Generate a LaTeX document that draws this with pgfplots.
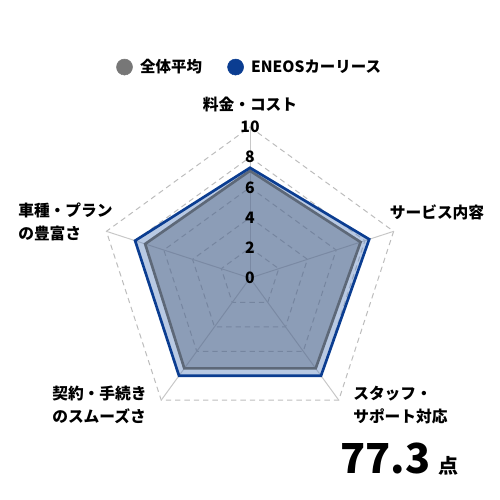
\documentclass[border=0pt]{standalone}
\usepackage{fontspec}
\setmainfont{Noto Sans CJK JP}
\usepackage{pgfplots}
\pgfplotsset{compat=1.18}

\definecolor{gridgray}{HTML}{BDBDBD}
\definecolor{spokegray}{HTML}{C8C8C8}
\definecolor{eneosblue}{HTML}{0B3D91}
\definecolor{eneosfill}{RGB}{98,135,193}
\definecolor{avgfill}{RGB}{70,85,110}
\definecolor{avgline}{HTML}{5D6878}
\definecolor{avgdot}{HTML}{777777}

\begin{document}
\begin{tikzpicture}[x=0.75pt,y=-0.75pt,font=\fontsize{11.8pt}{17.25pt}\selectfont\bfseries]
\useasboundingbox (0,0) rectangle (500,500);
\coordinate (C) at (250,278);
\begin{axis}[
    at={(C)}, anchor=origin,
    x=11.325pt, y=11.325pt,
    xmin=-11, xmax=11, ymin=-11, ymax=11,
    axis lines=none, clip=false,
    legend columns=2,
    legend style={at={(0.5,1.135)}, anchor=center, draw=none, fill=none,
        font=\fontsize{11.6pt}{13pt}\selectfont\bfseries,
        /tikz/every even column/.append style={column sep=17pt}},
    legend image code/.code={\fill[#1] (0,0) circle (6pt); \path (9.5pt,0);},
]
% grid: dashed pentagons
\addplot[forget plot, gridgray, dash pattern=on 4pt off 3pt, line width=0.75pt, data cs=polar]
    coordinates {(90,2) (18,2) (-54,2) (-126,2) (162,2)} -- cycle;
\addplot[forget plot, gridgray, dash pattern=on 4pt off 3pt, line width=0.75pt, data cs=polar]
    coordinates {(90,4) (18,4) (-54,4) (-126,4) (162,4)} -- cycle;
\addplot[forget plot, gridgray, dash pattern=on 4pt off 3pt, line width=0.75pt, data cs=polar]
    coordinates {(90,6) (18,6) (-54,6) (-126,6) (162,6)} -- cycle;
\addplot[forget plot, gridgray, dash pattern=on 4pt off 3pt, line width=0.75pt, data cs=polar]
    coordinates {(90,8) (18,8) (-54,8) (-126,8) (162,8)} -- cycle;
\addplot[forget plot, gridgray, dash pattern=on 4pt off 3pt, line width=0.75pt, data cs=polar]
    coordinates {(90,10) (18,10) (-54,10) (-126,10) (162,10)} -- cycle;
% spokes
\addplot[forget plot, spokegray, line width=0.75pt, data cs=polar] coordinates {(90,0) (90,10)};
\addplot[forget plot, spokegray, line width=0.75pt, data cs=polar] coordinates {(18,0) (18,10)};
\addplot[forget plot, spokegray, line width=0.75pt, data cs=polar] coordinates {(-54,0) (-54,10)};
\addplot[forget plot, spokegray, line width=0.75pt, data cs=polar] coordinates {(-126,0) (-126,10)};
\addplot[forget plot, spokegray, line width=0.75pt, data cs=polar] coordinates {(162,0) (162,10)};
% ENEOS fill
\addplot[forget plot, draw=none, fill=eneosfill, fill opacity=0.45, data cs=polar]
    coordinates {(90,7.3) (18,8.3) (-54,8.0) (-126,8.0) (162,8.0)} -- cycle;
% average
\addplot[forget plot, avgline, line width=2pt, line join=miter, fill=avgfill, fill opacity=0.38, data cs=polar]
    coordinates {(90,7.1) (18,7.7) (-54,7.4) (-126,7.4) (162,7.3)} -- cycle;
% ENEOS line
\addplot[forget plot, eneosblue, line width=2pt, line join=miter, data cs=polar]
    coordinates {(90,7.3) (18,8.3) (-54,8.0) (-126,8.0) (162,8.0)} -- cycle;

\addlegendimage{avgdot}
\addlegendentry{全体平均}
\addlegendimage{eneosblue}
\addlegendentry{ENEOSカーリース}

% radial tick labels
\node at (axis cs:0,0) {0};
\node at (axis cs:0,2) {2};
\node at (axis cs:0,4) {4};
\node at (axis cs:0,6) {6};
\node at (axis cs:0,8) {8};
\node at (axis cs:0,10) {10};
\end{axis}

% category labels
\node at (250,104) {料金・コスト};
\node at (437,212) {サービス内容};
\node[anchor=west, align=left, inner sep=0pt] at (353,405) {スタッフ・\\サポート対応};
\node[anchor=west, align=left, inner sep=0pt] at (52,405) {契約・手続き\\のスムーズさ};
\node[anchor=west, align=left, inner sep=0pt] at (18,222) {車種・プラン\\の豊富さ};
% score
\node[anchor=base west, inner sep=0pt, font=\fontsize{31pt}{31pt}\selectfont\bfseries] at (340,473) {77.3};
\node[anchor=base west, inner sep=0pt, font=\fontsize{15pt}{15pt}\selectfont\bfseries] at (438,473) {点};
\end{tikzpicture}
\end{document}
